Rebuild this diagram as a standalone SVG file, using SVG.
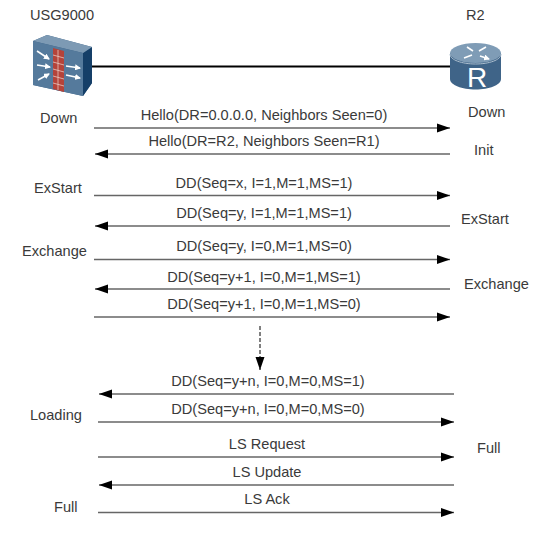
<svg xmlns="http://www.w3.org/2000/svg" width="555" height="539" viewBox="0 0 555 539">
<style>
text{font-family:"Liberation Sans",Arial,sans-serif;font-size:14.6px;fill:#3a3a3a}
.m{text-anchor:middle}
.c{stroke:#666;stroke-width:1.6;fill:none}
.l{stroke:#000;stroke-width:2;fill:none}
.a{stroke:#fff;stroke-width:1.6;fill:none}
</style>
<defs>
<marker id="ah" markerUnits="userSpaceOnUse" markerWidth="14" markerHeight="10" refX="13" refY="5" orient="auto-start-reverse"><path d="M0 0.500L13 5L0 9.500Z" fill="#000"/></marker>
<marker id="wa" markerUnits="userSpaceOnUse" markerWidth="6" markerHeight="6" refX="5" refY="3" orient="auto"><path d="M0 0L6 3L0 6Z" fill="#fff"/></marker>
</defs>
<rect width="555" height="539" fill="#fff"/>
<g id="connectors">
<line class="l" x1="91" y1="66.500" x2="452" y2="66.500"/>
<line class="c" x1="94" y1="128" x2="450" y2="128" marker-end="url(#ah)"/>
<line class="c" x1="450" y1="154" x2="95" y2="154" marker-end="url(#ah)"/>
<line class="c" x1="94" y1="195.500" x2="450" y2="195.500" marker-end="url(#ah)"/>
<line class="c" x1="450" y1="226" x2="95" y2="226" marker-end="url(#ah)"/>
<line class="c" x1="94" y1="259.500" x2="450" y2="259.500" marker-end="url(#ah)"/>
<line class="c" x1="450" y1="289" x2="95" y2="289" marker-end="url(#ah)"/>
<line class="c" x1="94" y1="317" x2="450" y2="317" marker-end="url(#ah)"/>
<line x1="260" y1="326" x2="260" y2="370" stroke="#000" stroke-width="1" stroke-dasharray="4 2" marker-end="url(#ah)"/>
<line class="c" x1="454" y1="394" x2="99" y2="394" marker-end="url(#ah)"/>
<line class="c" x1="98" y1="422" x2="454" y2="422" marker-end="url(#ah)"/>
<line class="c" x1="98" y1="457" x2="454" y2="457" marker-end="url(#ah)"/>
<line class="c" x1="454" y1="485" x2="99" y2="485" marker-end="url(#ah)"/>
<line class="c" x1="98" y1="512.500" x2="454" y2="512.500" marker-end="url(#ah)"/>
</g>
<g id="usg9000">
<text x="30" y="20">USG9000</text>
<path d="M33 41L47 35L92 47L92 83L83 96L33 85Z" fill="#3e6487"/>
<path d="M83 96L92 83L92 47L83 53Z" fill="#153f68"/>
<path d="M33 41L47 35L92 47L83 53Z" fill="#7d9ab4"/>
<path d="M33 41L83 53L83 96L33 85Z" fill="#557a9c"/>
<path d="M53 48L64 51L64 92L53 89Z" fill="#b5433a"/>
<path d="M53 55L64 58M53 62L64 65M53 69L64 72M53 76L64 79M53 83L64 86M58 50V90" stroke="#e8c8c0" stroke-width="0.8" fill="none"/>
<path class="a" d="M37 51L49 59" marker-end="url(#wa)"/>
<path class="a" d="M37 65L50 67" marker-end="url(#wa)"/>
<path class="a" d="M38 80L49 74" marker-end="url(#wa)"/>
<path class="a" d="M66 66L80 68" marker-end="url(#wa)"/>
<path class="a" d="M66 75L80 78" marker-end="url(#wa)"/>
</g>
<g id="r2">
<text x="466" y="20">R2</text>
<path d="M450 53V79C450 85 462 89.500 475.500 89.500C489 89.500 501 85 501 79V53Z" fill="#3f6488"/>
<ellipse cx="475.500" cy="53" rx="25.500" ry="10" fill="#7f9cb6"/>
<path d="M450 54C450 60 462 64 475.500 64C489 64 501 60 501 54" stroke="#a9bccd" stroke-width="1" fill="none"/>
<path class="a" d="M473 51L467 47M479 51L486 47M472 55L464 58M480 56L489 59" marker-end="url(#wa)"/>
<text x="477" y="87" text-anchor="middle" style="font-size:28px;fill:#fff">R</text>
</g>
<g id="states-left">
<text x="40" y="123">Down</text>
<text x="34" y="193">ExStart</text>
<text x="22" y="256">Exchange</text>
<text x="30" y="420">Loading</text>
<text x="54" y="512">Full</text>
</g>
<g id="states-right">
<text x="468" y="117">Down</text>
<text x="474" y="155">Init</text>
<text x="461" y="224">ExStart</text>
<text x="464" y="289">Exchange</text>
<text x="477" y="453">Full</text>
</g>
<g id="labels">
<text class="m" x="264" y="119.500">Hello(DR=0.0.0.0, Neighbors Seen=0)</text>
<text class="m" x="264" y="146">Hello(DR=R2, Neighbors Seen=R1)</text>
<text class="m" x="264" y="188">DD(Seq=x, I=1,M=1,MS=1)</text>
<text class="m" x="264" y="218">DD(Seq=y, I=1,M=1,MS=1)</text>
<text class="m" x="264" y="251">DD(Seq=y, I=0,M=1,MS=0)</text>
<text class="m" x="264" y="282">DD(Seq=y+1, I=0,M=1,MS=1)</text>
<text class="m" x="264" y="309">DD(Seq=y+1, I=0,M=1,MS=0)</text>
<text class="m" x="268" y="386">DD(Seq=y+n, I=0,M=0,MS=1)</text>
<text class="m" x="268" y="414">DD(Seq=y+n, I=0,M=0,MS=0)</text>
<text class="m" x="267" y="449">LS Request</text>
<text class="m" x="267" y="477">LS Update</text>
<text class="m" x="267" y="504">LS Ack</text>
</g>
</svg>
